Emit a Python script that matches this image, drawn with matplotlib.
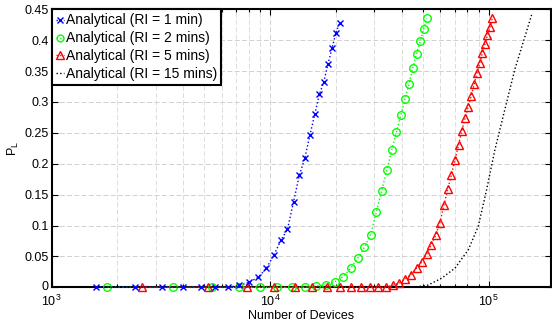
import matplotlib
matplotlib.use("Agg")
import matplotlib.pyplot as plt
import matplotlib.transforms as mtransforms
from matplotlib.ticker import LogLocator, NullFormatter, FixedLocator

plt.rcParams['font.family'] = ['Liberation Sans', 'DejaVu Sans']
plt.rcParams['mathtext.fontset'] = 'custom'
plt.rcParams['mathtext.rm'] = 'Liberation Sans'
plt.rcParams['mathtext.it'] = 'Liberation Sans:italic'

# ---- data ----
x_1min = [1600, 2400, 3200, 4000, 4800, 5600, 6400, 7200, 8000, 8800, 9600,
          10400, 11200, 12000, 12800, 13600, 14400, 15200, 16000, 16800,
          17600, 18400, 19200, 20000, 20800]
y_1min = [0, 0, 0, 0, 0, 0, 0, 0.003, 0.008, 0.016, 0.0305,
          0.0525, 0.076, 0.094, 0.1386, 0.1815, 0.2088, 0.2463, 0.280, 0.3125,
          0.3325, 0.3617, 0.387, 0.412, 0.428]

x_2min = [1800, 3600, 5400, 7200, 9000, 10800, 12600, 14400, 16200, 18000,
          19800, 21600, 23400, 25200, 27000, 28800, 30600, 32400, 34200, 36000,
          37800, 39600, 41400, 43200, 45000, 46800, 48600, 50400, 52200]
y_2min = [0, 0, 0, 0, 0, 0, 0, 0, 0.002, 0.0037,
          0.0091, 0.0172, 0.031, 0.0472, 0.065, 0.085, 0.1212, 0.1565, 0.1896, 0.2222,
          0.2507, 0.2784, 0.305, 0.329, 0.3555, 0.378, 0.398, 0.418, 0.436]

x_5min = [2600 * k for k in range(1, 41)]
y_5min = [0, 0, 0, 0, 0, 0, 0, 0, 0, 0, 0, 0, 0,
          0.0033, 0.007, 0.014, 0.0206, 0.0313, 0.041, 0.054, 0.069, 0.084,
          0.104, 0.1332, 0.1588, 0.1824, 0.2067, 0.2303, 0.2535, 0.274, 0.2925,
          0.3092, 0.3283, 0.3467, 0.3628, 0.379, 0.3943, 0.409, 0.4214, 0.4359]

x_15min = [1000, 10000, 30000, 46000, 52900, 60900, 70100, 80700, 89600,
           97900, 106900, 118700, 131900, 157300]
y_15min = [0, 0, 0, 0, 0.0037, 0.0146, 0.0309, 0.0606, 0.0985,
           0.158, 0.2231, 0.2881, 0.3531, 0.4409]

labels = ['Analytical (RI = 1 min)', 'Analytical (RI = 2 mins)',
          'Analytical (RI = 5 mins)', 'Analytical (RI = 15 mins)']

yticks = [0, 0.05, 0.1, 0.15, 0.2, 0.25, 0.3, 0.35, 0.4, 0.45]
yticklabels = ['0', '0.05', '0.1', '0.15', '0.2', '0.25', '0.3', '0.35', '0.4', '0.45']

# ---- figure ----
fig = plt.figure(figsize=(5.52, 3.21), dpi=100)
ax = fig.add_axes([0.0937, 0.105, 0.9045, 0.866])

ax.plot(x_1min, y_1min, ':', color=(0, 0, 1), lw=1, marker='x', ms=4.5,
        mew=1, clip_on=False, label=labels[0], zorder=4)
ax.plot(x_2min, y_2min, ':', color=(0, 1, 0), lw=1, marker='o', ms=5.5,
        mew=1, mfc='none', clip_on=False, label=labels[1], zorder=3)
ax.plot(x_5min, y_5min, ':', color=(1, 0, 0), lw=1, marker='^', ms=6,
        mew=1, mfc='none', clip_on=False, label=labels[2], zorder=3)
ax.plot(x_15min, y_15min, ':', color='k', lw=1, label=labels[3], zorder=2)

ax.set_xscale('log')
ax.set_xlim(1e3, 1.93e5)
ax.set_ylim(0, 0.45)
ax.yaxis.set_major_locator(FixedLocator(yticks))
ax.set_yticklabels(yticklabels)
ax.xaxis.set_major_locator(LogLocator(base=10, numticks=10))
ax.xaxis.set_minor_locator(LogLocator(base=10, subs=range(2, 10), numticks=20))
ax.xaxis.set_minor_formatter(NullFormatter())

ax.grid(True, which='major', axis='both', color='#d0d0d0', ls=(0, (5, 2.5)), lw=0.7)
ax.grid(True, which='minor', axis='x', color='#dcdcdc', ls=(0, (5, 2.5)), lw=0.7)
ax.set_axisbelow(True)

ax.tick_params(which='both', direction='in', top=True, right=True,
               labelsize=9, width=0.8)
ax.tick_params(axis='y', pad=2)
ax.tick_params(axis='x', pad=5)
ax.tick_params(which='major', length=4)
ax.tick_params(which='minor', length=2)
for s in ax.spines.values():
    s.set_linewidth(1.5)

# nudge the "0" y tick label up slightly so it does not collide with 10^3
zero_lbl = ax.get_yticklabels()[0]
zero_lbl.set_transform(zero_lbl.get_transform() +
                       mtransforms.ScaledTranslation(0, 2 / 100, fig.dpi_scale_trans))

ax.set_xlabel('Number of Devices', fontsize=9, labelpad=0.5)
ax.set_ylabel('P$_\\mathregular{L}$', fontsize=9, labelpad=3)

leg = ax.legend(loc='upper left', fontsize=10, handlelength=0.6,
                handletextpad=0.1, labelspacing=0.28, borderpad=0.3,
                borderaxespad=0.0, fancybox=False, framealpha=1,
                edgecolor='k', markerscale=0.9)
leg.get_frame().set_linewidth(1.5)

fig.savefig('out.png', dpi=100)
